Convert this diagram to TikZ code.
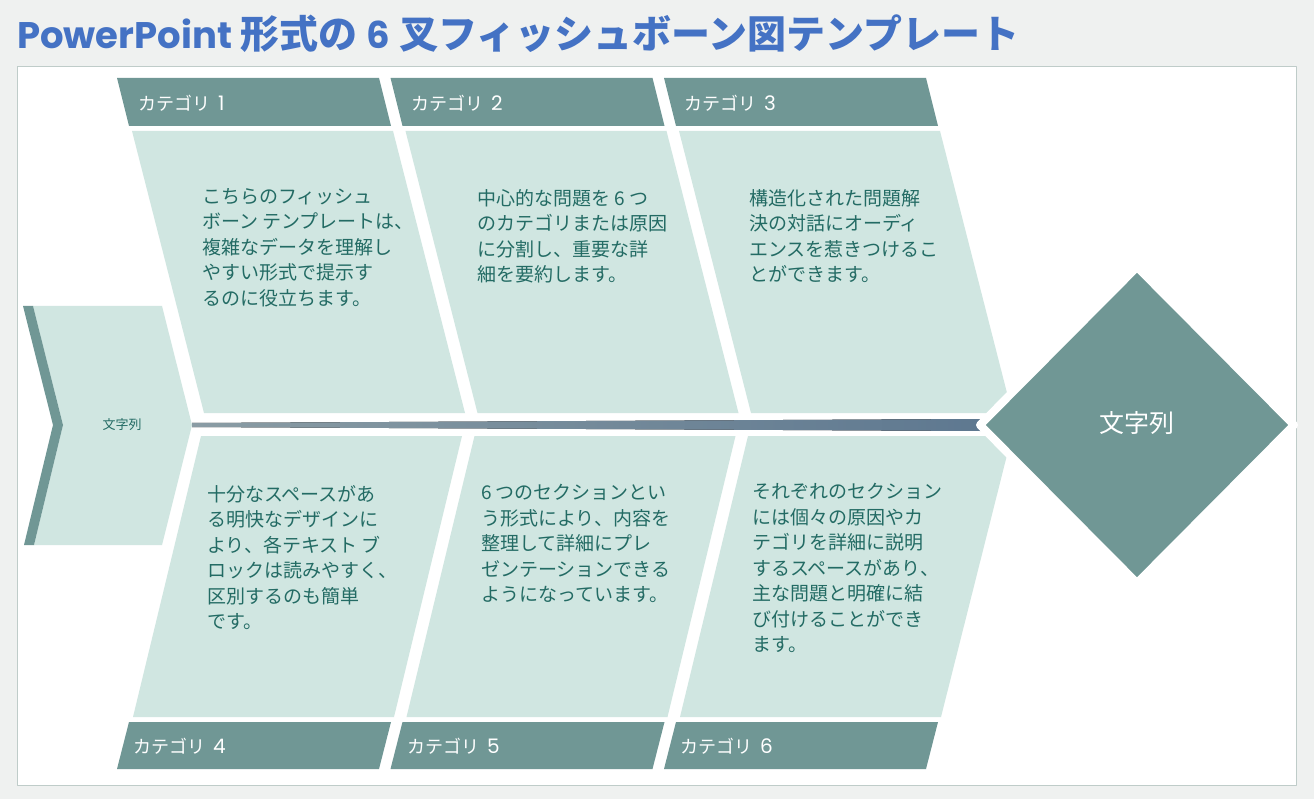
\documentclass[tikz,border=0pt]{standalone}
\usepackage{fontspec}
\setmainfont{Noto Sans CJK JP}
\newfontfamily\latinfont{Poppins}
\usetikzlibrary{shapes.geometric}
\definecolor{bgray}{HTML}{EFF1F0}
\definecolor{framegray}{HTML}{BFCCC9}
\definecolor{catdark}{HTML}{709795}
\definecolor{boxlight}{HTML}{D0E6E1}
\definecolor{txtteal}{HTML}{236B64}
\definecolor{titleblue}{HTML}{4472C4}
\definecolor{spineL}{HTML}{8A9CA4}
\definecolor{spineR}{HTML}{5E7890}
\begin{document}
\begin{tikzpicture}[x=1pt,y=-1pt,line join=round]
	\tikzset{catbox/.style={fill=catdark},
		bodybox/.style={fill=boxlight},
		catlabel/.style={anchor=west,inner sep=0,text=white,font=\fontsize{18}{20}\selectfont},
		bodytext/.style={anchor=north west,align=left,inner sep=0,text=txtteal,font=\fontsize{19}{25.5}\selectfont}}
	\useasboundingbox (0,0) rectangle (1314,799);
	\fill[bgray] (0,0) rectangle (1314,799);
	\node[anchor=base west,inner sep=0,text=titleblue,font=\bfseries\fontsize{39}{42}\selectfont] (title) at (17,49) {{\latinfont\fontsize{37}{40}\selectfont PowerPoint} 形式の {\latinfont\fontsize{37}{40}\selectfont 6} 叉フィッシュボーン図テンプレート};
	\draw[framegray,fill=white] (17.5,66.5) rectangle (1296.5,785.5);
	% category bars
	\foreach \i in {0,1,2}{
		\begin{scope}[xshift=\i*273.5]
		\fill[catbox] (117,78) -- (379,78) -- (391,126) -- (129,126) -- cycle;
		\fill[catbox] (129,722) -- (391,722) -- (379,769) -- (117,769) -- cycle;
		\end{scope}}
	% light blocks
	\foreach \i in {0,1}{
		\begin{scope}[xshift=\i*273.5]
		\fill[bodybox] (132,131) -- (393,131) -- (465,413) -- (204,413) -- cycle;
		\fill[bodybox] (201,436) -- (462,436) -- (394,717) -- (133,717) -- cycle;
		\end{scope}}
	\fill[bodybox] (679,131) -- (940,131) -- (1007,393) -- (989,413) -- (751,413) -- cycle;
	\fill[bodybox] (748,436) -- (989,436) -- (1007,455) -- (941,717) -- (680,717) -- cycle;
	% tail
	\fill[boxlight] (33,306) -- (162,306) -- (192,425) -- (162,545) -- (34,545) -- (63,425) -- cycle;
	\fill[catdark] (23,306) -- (33,306) -- (63,425) -- (34,545) -- (24,545) -- (53,425) -- cycle;
	\node[text=txtteal,font=\fontsize{13}{15}\selectfont] (tail) at (122,425) {文字列};
	\coordinate (tailtip) at (192,425);
	% head and spine
	\path (1137,425) node[diamond,minimum width=314,minimum height=316,inner sep=0,outer sep=0] (head) {};
	\fill[left color=spineL,right color=spineR] ([yshift=2pt]tailtip) -- ([yshift=6pt]head.west) -- ([yshift=-6pt]head.west) -- ([yshift=-2pt]tailtip) -- cycle;
	\node[diamond,fill=catdark,draw=white,line width=8pt,minimum width=314,minimum height=316,inner sep=0,outer sep=0] at (head.center) {};
	\node[text=white,font=\fontsize{25}{28}\selectfont] (headtext) at (1137,423) {文字列};
	% labels
	\foreach \i/\x in {1/138,2/411,3/684}
		\node[catlabel] (cat\i) at (\x,103) {カテゴリ\hspace{8pt}{\latinfont\fontsize{20}{22}\selectfont\i}};
	\foreach \i/\x in {4/133,5/407,6/680}
		\node[catlabel] (cat\i) at (\x,746) {カテゴリ\hspace{8pt}{\latinfont\fontsize{20}{22}\selectfont\i}};
	\node[bodytext] (txt1) at (202,188) {こちらのフィッシュ\\ボーン テンプレートは、\\複雑なデータを理解し\\やすい形式で提示す\\るのに役立ちます。};
	\node[bodytext] (txt2) at (477,189) {中心的な問題を 6 つ\\のカテゴリまたは原因\\に分割し、重要な詳\\細を要約します。};
	\node[bodytext] (txt3) at (749,189) {構造化された問題解\\決の対話にオーディ\\エンスを惹きつけるこ\\とができます。};
	\node[bodytext] (txt4) at (207,485) {十分なスペースがあ\\る明快なデザインに\\より、各テキスト ブ\\ロックは読みやすく、\\区別するのも簡単\\です。};
	\node[bodytext] (txt5) at (481,484) {6 つのセクションとい\\う形式により、内容を\\整理して詳細にプレ\\ゼンテーションできる\\ようになっています。};
	\node[bodytext] (txt6) at (752,483) {それぞれのセクション\\には個々の原因やカ\\テゴリを詳細に説明\\するスペースがあり、\\主な問題と明確に結\\び付けることができ\\ます。};
\end{tikzpicture}
\end{document}
